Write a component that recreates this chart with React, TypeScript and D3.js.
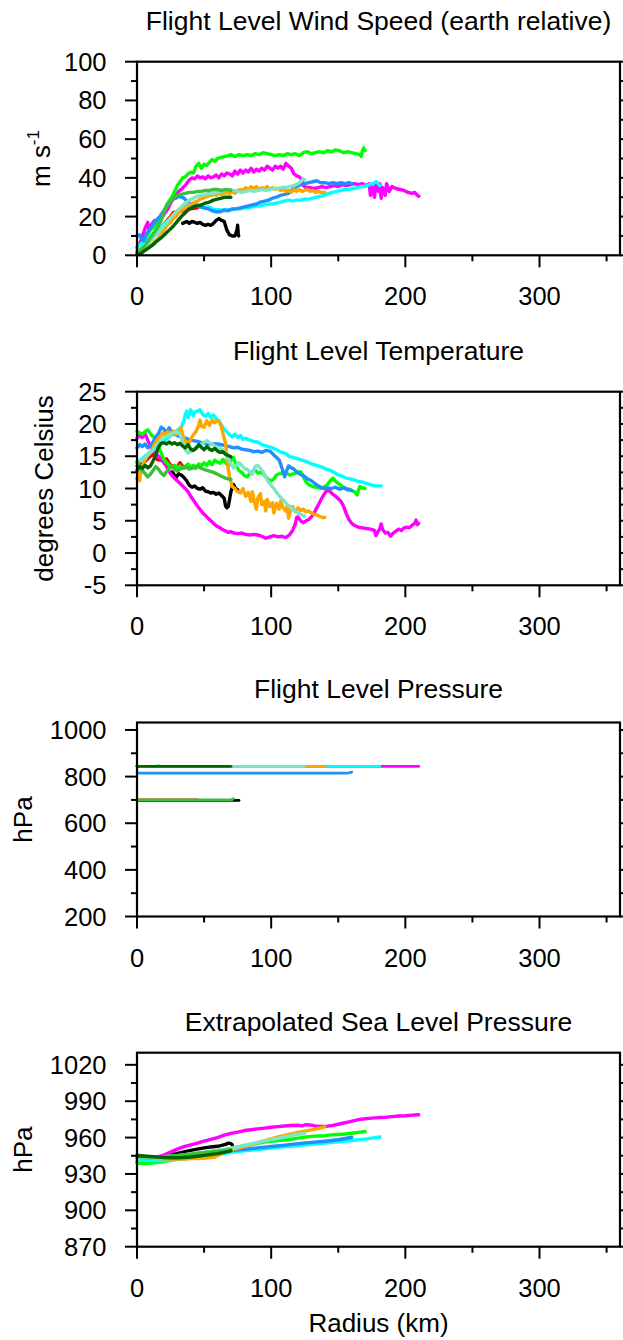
import React from "react";
import * as d3 from "d3";

// ---------- DATA (radius km, value) ----------
const radiusTicks = [0, 100, 200, 300];
const radiusMinor = [50, 150, 250, 350];

const seriesNames = ["black", "red", "magenta", "lime", "cyan", "blue", "orange", "aqua", "midgreen", "darkgreen"];
const seriesColors = ["#000000", "#ff0000", "#ff00ff", "#00ff00", "#00ffff", "#1e90ff", "#ffa500", "#7ce6c6", "#3cbf3c", "#006400"];

// Wind speed (m s-1)
const windBlack = [[34,16.5],[37,17.5],[39,16.5],[41,17.5],[43,17],[45,16.5],[47,17],[49,16],[51,15.5],[53,16],[55,15.5],[57,16.5],[59,18],[61,19],[63,18],[65,17.5],[67,13],[69,10.5],[71,10],[73,10],[74.5,13],[75,15.5],[75.5,11],[75.8,10]];
const windRed = [[0,1],[5,4],[10,8],[15,12],[20,16],[25,20],[27,22],[30,22.5],[35,23],[40,24],[45,24.5]];
const windMagenta = [[0,4],[2,6],[4,10],[6,14],[8,17],[9,13],[11,16],[13,18],[15,17],[17,19],[19,20],[21,22],[23,24],[25,27],[27,29],[29,31],[31,33],[33,34],[35,35.5],[37,37],[39,39],[41,40],[43,39.5],[45,41],[47,40],[49,40.5],[51,39.5],[53,41],[55,40],[57,40.5],[59,41.5],[61,40],[63,42],[65,41],[67,42.5],[69,42],[71,41],[73,43.5],[75,42],[77,44],[79,42.5],[81,44],[83,43],[85,45],[87,43],[89,44.5],[91,43.5],[93,45],[95,44],[97,46],[99,45],[101,44],[103,46],[105,45],[107,46],[109,44.5],[111,47.5],[113,46],[115,45],[117,42],[119,41],[121,40.5],[123,39],[124,36],[126,35],[129,35],[132,34.5],[135,35],[138,35.5],[141,35],[144,35.5],[147,36],[150,35.5],[153,36.5],[156,36],[159,36.5],[162,37],[165,36.5],[168,37],[171,36],[173,37],[174,31],[175,36],[177,30],[178,36.5],[180,33],[181,37],[182,29.5],[183,35],[185,31],[186,37],[188,33],[190,35.5],[193,34.5],[196,34],[199,33.5],[202,32.5],[205,32],[207,32.5],[209,31],[210,30.5]];
const windLime = [[1,3],[3,6],[5,8],[8,11],[10,13],[13,15],[16,18],[18,20],[20,22],[22,26],[24,28],[26,30],[28,33],[30,36],[32,38],[34,40],[36,40.5],[38,42],[40,43],[42,42.5],[44,46],[46,47.5],[48,45],[50,47],[52,46.5],[54,48],[56,49.5],[58,48.5],[60,50],[62,50.5],[65,51],[68,51.5],[70,52],[73,51],[76,52],[79,51.5],[82,52],[85,51.5],[88,52.5],[91,52],[94,53],[97,52.5],[100,52],[103,51.5],[106,52],[109,51.5],[112,52.5],[115,52],[118,52.5],[121,51.5],[124,53],[127,53.5],[130,52.5],[133,53],[136,53.5],[139,53],[142,54],[145,53.5],[148,54.5],[151,54],[154,53],[157,53.5],[160,53],[163,52.5],[166,52],[167,51],[168,54],[169,55.5],[170,54]];
const windCyan = [[0,4],[5,7],[10,10],[15,13],[20,16],[25,19],[30,22],[35,25],[38,26],[41,26.5],[44,25.5],[47,25],[50,24.5],[53,25],[56,24],[59,23.5],[62,23.5],[65,23],[68,23.5],[71,23.5],[74,24],[77,24],[80,24.5],[83,24.5],[86,25],[89,25.5],[92,25.5],[95,26],[98,26.5],[101,26.5],[104,27],[107,27.5],[110,28],[113,28.5],[116,28],[119,28.5],[122,28.5],[125,29],[128,29],[131,29.5],[134,30],[137,30.5],[140,31],[143,32],[146,32.5],[149,33],[152,33.5],[155,34],[158,34],[161,34.5],[164,35],[167,35.5],[170,35.5],[173,36.5],[176,37],[178,38],[180,37],[181,36]];
const windBlue = [[0,10],[2,10.5],[4,8],[5,7.5],[7,11],[9,13],[11,15],[13,17],[15,18.5],[17,20],[19,22],[21,24],[23,26],[25,28],[27,29],[29,29.5],[31,30.5],[33,30],[35,29.5],[37,28],[39,27],[41,26.5],[43,25.5],[45,26],[47,25],[50,24.5],[53,24],[56,23],[59,22.5],[62,22.5],[65,23.5],[68,23],[71,24],[74,24],[77,24.5],[80,25],[83,25.5],[86,26],[89,26.5],[92,27.5],[95,28],[98,28.5],[101,29.5],[104,30],[107,31],[110,31.5],[113,32],[116,34],[119,35.5],[122,36.5],[125,37],[128,37.5],[131,38],[134,38.5],[137,37.5],[140,37.5],[143,37],[146,37.5],[149,37],[152,37.5],[155,37],[158,37.5],[160,37]];
const windOrange = [[0,2],[3,3],[6,4],[9,6],[11,5],[13,7],[15,8],[17,10],[19,12],[21,14],[23,16],[25,17],[27,19],[29,20],[31,22],[33,23],[35,24],[37,25],[39,26],[41,26.5],[43,27.5],[45,28],[47,29],[49,29.5],[51,30],[53,30.5],[55,31],[57,31.5],[59,31],[61,32],[63,31.5],[65,32],[67,32.5],[69,32],[71,33],[73,32],[75,33.5],[77,34],[79,33.5],[81,35],[83,34],[85,35.5],[87,34.5],[89,35.5],[91,34],[93,35],[95,34.5],[97,35.5],[99,34],[101,35],[103,34],[105,34.5],[107,33.5],[109,34],[111,33],[113,33.5],[115,32.5],[117,34],[119,33],[121,34],[123,33],[125,33.5],[127,34],[129,33],[131,33.5],[133,32.5],[135,33],[137,32.5],[140,32.5]];
const windAqua = [[0,2],[3,4],[6,5],[9,6.5],[12,9],[15,11],[18,13.5],[21,16],[24,18.5],[27,21],[30,23],[33,25],[36,27],[39,28.5],[42,29.5],[45,30.5],[48,31],[51,31.5],[54,32],[57,32],[60,32.5],[63,33],[66,33.5],[69,34],[72,33.5],[75,33],[78,32.5],[81,33],[84,33.5],[87,33],[90,33.5],[93,34],[96,33.5],[99,34],[102,34.5],[105,34.5],[108,35],[111,35],[114,35.5],[117,36],[120,37],[122,38],[124,39.5],[125,39]];
const windMidGreen = [[0,2],[3,3],[6,5],[9,8],[12,11],[15,14],[18,18],[21,24],[24,27],[27,29.5],[30,31],[33,31.5],[36,32],[39,32.5],[42,32.5],[45,33],[48,33],[51,33.5],[54,33.5],[57,34],[60,34],[63,33.5],[66,34],[70,33.5]];
const windDarkGreen = [[0,0],[3,1],[6,2.5],[9,4],[12,5.5],[15,7.5],[18,9],[21,11],[24,13],[27,15],[30,17.5],[33,20],[36,22],[39,24],[42,25],[45,25.5],[48,26],[51,27],[54,27.5],[57,28.5],[60,29],[63,29.5],[66,30],[70,30]];

// Temperature (deg C)
const tempBlack = [[26,12.6],[27,12.4],[29,11.6],[31,12.3],[33,12.1],[35,11.7],[37,11.2],[39,10.5],[41,10.2],[43,10.4],[45,10],[47,9.9],[49,10.1],[51,9.6],[53,9.5],[55,9.3],[57,9.4],[59,9.1],[61,9.3],[63,8.9],[65,8.5],[66,7.3],[67,7],[68,7.2],[69,8.3],[70,9.5],[71,10.2],[72,10.6],[73,10.2],[74,9.9],[75,9.8]];
const tempRed = [[0,13.5],[5,14],[10,15],[12,15.3],[15,14.5],[20,14.3],[22,14.6],[25,13.6],[30,13.3],[32,14],[35,13.2],[40,13.4]];
const tempMagenta = [[0,17.8],[2,18.2],[4,17.9],[6,18.5],[8,17.5],[10,16.5],[12,15.9],[14,15.5],[16,15],[18,14.6],[20,14],[22,13.4],[24,12.6],[26,12],[28,11.6],[30,11.2],[32,10.8],[34,10.4],[36,10],[38,9.5],[40,8.8],[42,8.2],[44,7.6],[46,7],[48,6.5],[50,6],[52,5.6],[54,5.2],[56,4.8],[58,4.4],[60,4.1],[62,3.9],[64,3.6],[66,3.4],[68,3.2],[70,3.3],[72,3.1],[75,3],[78,3.1],[81,2.9],[84,2.8],[87,2.9],[90,2.8],[93,2.6],[96,2.3],[99,2.5],[102,2.7],[105,2.5],[108,2.6],[111,2.4],[114,2.9],[116,3.5],[118,4.5],[119,5.5],[120,5.6],[122,5],[124,4.7],[126,5],[128,5.2],[130,5.6],[132,6.2],[134,7],[136,7.8],[138,8.6],[140,9.3],[142,9.8],[144,9.5],[146,9.1],[148,8.8],[150,8.4],[152,8],[154,7.2],[156,6.1],[158,5.2],[160,4.6],[162,4.3],[165,4],[168,3.9],[171,3.8],[174,3.7],[177,3.5],[178,2.7],[179,3.1],[181,3.8],[182,4.5],[183,3.7],[185,3.1],[187,3.2],[189,2.6],[191,3.1],[193,3.4],[195,3.7],[197,3.5],[199,3.9],[201,4],[203,3.9],[205,4.3],[207,4.6],[208,5.1],[209,4.4],[210,4.6]];
const tempLime = [[0,18.9],[2,18.6],[4,18.4],[6,18.8],[8,19.1],[10,18.5],[12,18],[14,17.8],[16,16.5],[18,15.5],[20,14.5],[22,14],[24,13.6],[26,13.3],[28,13.6],[30,13.2],[32,13.5],[34,13.1],[36,13.4],[38,13.8],[40,13.3],[42,13.6],[44,13.1],[46,13.8],[48,13.5],[50,14],[52,13.6],[54,14.2],[56,13.7],[58,14.4],[60,14.1],[62,13.9],[64,14.5],[66,14],[68,13.5],[70,14.3],[72,14.8],[74,13.5],[76,12.8],[78,12.5],[80,12],[82,11.8],[84,12.3],[86,12.6],[88,12.9],[90,12.4],[92,12.5],[94,12.3],[96,11.8],[98,11.4],[100,11.2],[102,11.5],[104,12.1],[106,12.3],[109,12.4],[112,12.3],[114,12.1],[117,12.3],[120,12.5],[122,12.6],[124,11.8],[126,11],[128,10.6],[131,10.3],[134,10.2],[137,10],[140,10.3],[142,10.6],[144,11.2],[146,11.6],[148,11.1],[150,10.8],[152,10.5],[154,10.2],[156,10],[158,9.9],[160,9.7],[162,9.5],[164,9],[166,10.3],[168,10.1],[170,10]];
const tempCyan = [[0,14],[3,14.5],[6,15],[9,15.5],[12,16],[15,16.5],[18,17],[21,17.5],[24,18],[27,18.5],[30,19],[33,19.5],[35,20.5],[36,21.5],[37,22],[38,21],[39,21.5],[40,22.2],[42,21.3],[43,21.8],[45,22],[47,22.2],[49,21.5],[51,21.2],[53,21.6],[55,21],[57,21.4],[59,20.8],[61,20.5],[63,19.8],[65,19.2],[67,18.8],[69,18.3],[71,18],[73,18.4],[75,17.9],[77,18.2],[79,17.6],[81,17.8],[84,17.5],[87,17.3],[90,17.2],[93,16.8],[96,16.6],[99,16.4],[102,16.2],[105,15.9],[108,15.6],[111,15.4],[114,14.9],[117,14.8],[120,14.6],[123,14.4],[126,14.2],[129,13.9],[132,13.7],[135,13.5],[138,13.3],[141,13],[144,12.8],[147,12.5],[150,12.1],[153,11.9],[156,11.6],[159,11.5],[162,11.3],[165,11.1],[168,11],[171,10.8],[174,10.6],[177,10.4],[180,10.4],[182,10.4]];
const tempBlue = [[0,16.3],[2,16.8],[4,16.5],[6,16.9],[8,16.3],[10,16.6],[12,17.2],[14,18],[16,18.5],[18,19.5],[20,19.2],[22,18.6],[24,19.4],[26,18.7],[28,18.4],[30,18.2],[33,18],[36,17.8],[40,17.5],[45,17.3],[50,17],[55,16.9],[60,16.9],[65,16.7],[69,16.5],[72,16.3],[75,16.4],[78,16.1],[81,16],[84,15.9],[87,15.7],[90,15.8],[93,15.6],[96,15.9],[99,15.8],[102,15.2],[104,14.8],[106,14.4],[108,13.2],[110,11.8],[111,12.5],[113,13.5],[115,13.2],[117,13],[119,12.6],[121,12.3],[124,12],[127,11.5],[130,11.2],[133,10.7],[136,10.3],[139,10],[142,10.1],[145,10],[148,10.2],[151,9.9],[154,10.1],[157,9.8],[160,9.7]];
const tempOrange = [[0,11.5],[1,12.5],[2,11.2],[3,13],[5,14],[7,14.8],[9,15.5],[11,16],[13,16.8],[15,17.5],[17,18],[19,18.6],[21,18.3],[23,18.8],[25,18.5],[27,18.9],[29,18.4],[31,18.6],[33,19.4],[34,18.2],[36,17.3],[38,16.8],[40,17.6],[42,18.3],[44,18.8],[46,19.8],[47,20.6],[48,19.7],[50,19.5],[52,20.5],[54,19.8],[56,20.6],[58,20.2],[60,20.5],[62,20.1],[63,19.5],[64,18.6],[66,17],[67,15],[68,13],[69,11.8],[71,10.3],[73,10],[75,9.5],[77,9.3],[79,10],[81,8.8],[83,9.4],[85,8],[86,9.5],[88,7.5],[89,6.8],[90,8.5],[92,9.2],[93,7.5],[95,8],[96,6.5],[97,8.3],[99,7.2],[101,7.8],[102,6.2],[104,7.7],[106,6.8],[107,8],[109,7],[111,6.5],[112,7.4],[113,5.4],[114,6.3],[116,7.2],[118,6.4],[120,7],[122,6.6],[124,6.8],[126,6.4],[128,6.5],[130,6.2],[132,6],[134,5.9],[136,5.7],[138,5.5],[140,5.5]];
const tempAqua = [[0,14],[3,14.3],[6,14.8],[9,15.4],[12,16],[15,16.8],[18,17.5],[21,18],[24,18.3],[27,18.6],[30,18.8],[32,18.4],[34,17.2],[36,16],[38,15.5],[40,15.7],[43,16.3],[46,16.6],[49,17],[52,17.4],[55,17],[58,16.6],[61,16.3],[64,16],[66,15.4],[68,14.5],[70,13.8],[72,13.2],[74,13.6],[76,14],[78,13.6],[80,13.1],[82,13],[84,12.6],[86,12.2],[88,13.4],[90,13.6],[92,13.1],[94,12.6],[96,11.8],[98,11],[100,10.5],[102,10],[104,9.4],[106,8.9],[108,8.4],[110,8],[112,7.5],[114,7.2],[116,6.8],[118,6.5],[120,6.2],[122,6],[124,5.8],[125,5.7]];
const tempMidGreen = [[0,14.2],[2,13.5],[4,12.8],[6,12.3],[8,11.8],[10,12.2],[12,12.8],[14,13.4],[16,13],[18,12.4],[20,12],[22,12.6],[24,13.1],[26,13.4],[28,13],[30,12.7],[33,13.1],[36,13.4],[39,13],[42,13.2],[45,13.5],[48,13.1],[51,12.9],[54,12.7],[57,12.5],[60,12.2],[63,11.9],[66,11.6],[68,11.5],[70,11.4]];
const tempDarkGreen = [[0,12.8],[2,13.4],[4,13.1],[6,13.6],[8,13.2],[10,13.5],[12,14.3],[14,15.2],[16,16.4],[18,17],[20,17.1],[22,16.9],[24,17.2],[26,16.9],[28,17.1],[30,16.8],[32,17],[34,16.6],[36,16.3],[38,16.8],[40,16.1],[42,15.9],[44,16.2],[46,16.8],[48,16.4],[50,16],[52,16.5],[54,16.1],[56,15.9],[58,16.2],[60,15.8],[62,15.6],[64,15.7],[66,15.3],[68,15.1],[70,14.9]];

// Flight level pressure (hPa)
const presBlack = [[0,698],[76,698]];
const presRed = [[0,700],[45,700]];
const presMagenta = [[0,844],[210,844]];
const presLime = [[0,844],[14,844],[16,846],[18,843],[20,844],[170,844]];
const presCyan = [[0,844],[181,844]];
const presBlue = [[0,815],[155,815],[158,816],[160,819]];
const presOrange = [[0,844],[140,844]];
const presAqua = [[0,844],[125,844]];
const presMidGreen = [[0,700],[70,700],[71,702],[72,705]];
const presDarkGreen = [[0,844],[70,844]];

// Extrapolated sea level pressure (hPa)
const slpBlack = [[25,945.5],[30,947],[40,949.5],[50,951.5],[55,952.2],[60,952.8],[63,953.5],[66,954.4],[68,955.4],[70,955],[71,954]];
const slpRed = [[0,944],[20,944],[40,945.5]];
const slpMagenta = [[0,940],[5,940.5],[10,942.5],[15,944],[20,945.6],[25,948],[30,950.5],[35,952.5],[40,954],[45,955.5],[50,957],[55,958.5],[60,960],[65,962],[70,963.5],[75,964.5],[80,965.8],[85,966.5],[90,967.2],[95,967.8],[100,968.5],[105,969],[110,969.6],[115,970],[120,970.2],[123,969.6],[126,970.6],[130,970.3],[134,969.3],[138,969.2],[142,969.4],[146,970],[150,971],[154,972],[158,973],[162,974],[166,975],[170,975.5],[175,976],[180,976.5],[185,976.8],[190,977.3],[195,977.8],[200,978],[205,978.5],[210,978.8]];
const slpLime = [[0,939],[5,938.6],[10,938.8],[15,939.5],[20,940.2],[25,941.2],[30,942.2],[35,943.4],[40,944.5],[45,945.6],[50,946.7],[55,947.8],[60,948.9],[65,950],[70,951],[75,952.2],[80,953.3],[85,954.3],[90,955.3],[95,956.2],[100,956.9],[105,957.5],[110,958],[115,958.6],[120,959.5],[125,960.3],[130,961],[135,961.3],[140,961.6],[145,962.2],[150,962.5],[155,962.9],[160,963.6],[165,964.3],[170,965]];
const slpCyan = [[0,941.5],[10,941],[20,941],[30,941.8],[40,942.8],[50,944.3],[60,946],[70,947.8],[80,949],[90,950.2],[100,951.3],[110,952.3],[120,953.4],[130,954.4],[140,955.5],[150,956.5],[160,957.6],[170,958.7],[181,960.5]];
const slpBlue = [[0,943],[10,943.2],[20,943.7],[30,944.8],[40,945.8],[50,947],[60,948],[70,949.2],[80,950.3],[90,951.5],[100,952.6],[110,953.8],[120,955],[130,956],[140,957],[150,958.2],[160,960.3]];
const slpOrange = [[0,946],[5,944.5],[10,943.5],[15,942.8],[20,942.4],[25,942.3],[30,942.5],[35,942.3],[40,942.6],[45,942.8],[50,943],[55,943.5],[58,944],[61,945.5],[64,947.3],[67,948.5],[70,949.4],[75,951],[80,952.6],[85,954.2],[90,955.8],[95,957.5],[100,959],[105,960.5],[110,961.8],[115,963],[120,964.2],[125,965.3],[130,966.3],[135,967.5],[140,968.8]];
const slpAqua = [[0,943],[10,943.5],[20,944],[30,945],[40,946.5],[50,948],[60,949.5],[70,950.8],[80,953.5],[90,956],[100,958.3],[110,960.5],[118,962.3],[125,963.6]];
const slpMidGreen = [[0,944],[10,944.2],[20,944.5],[30,945.2],[40,946.3],[50,947.5],[60,948.7],[70,950]];
const slpDarkGreen = [[0,945],[5,944.8],[10,944.4],[15,944],[20,943.6],[25,943.4],[30,943.4],[35,943.6],[40,944],[45,944.6],[50,945.3],[55,946],[60,946.8],[65,947.8],[70,949]];

// Axis ticks per panel
const windTicks = [0, 20, 40, 60, 80, 100];
const windMinor = [10, 30, 50, 70, 90];
const tempTicks = [-5, 0, 5, 10, 15, 20, 25];
const tempMinor = [-2.5, 2.5, 7.5, 12.5, 17.5, 22.5];
const presTicks = [200, 400, 600, 800, 1000];
const presMinor = [300, 500, 700, 900];
const slpTicks = [870, 900, 930, 960, 990, 1020];
const slpMinor = [885, 915, 945, 975, 1005];

const titles = [
  "Flight Level Wind Speed (earth relative)",
  "Flight Level Temperature",
  "Flight Level Pressure",
  "Extrapolated Sea Level Pressure",
];

// ---------- LAYOUT ----------
const FONT = "'Liberation Sans', Arial, Helvetica, sans-serif";
const X0 = 137, X1 = 620;
const xScale = d3.scaleLinear().domain([0, 360]).range([X0, X1]);

const panels = [
  { title: titles[0], top: 61.7, bottom: 255.3, domain: [0, 100], ticks: windTicks, minor: windMinor, titleY: 30, ytitleX: 50, ytitle: "ms",
    data: [windBlack, windRed, windMagenta, windLime, windCyan, windBlue, windOrange, windAqua, windMidGreen, windDarkGreen], lw: 3.4 },
  { title: titles[1], top: 391.7, bottom: 585.3, domain: [-5, 25], ticks: tempTicks, minor: tempMinor, titleY: 360, ytitleX: 53, ytitle: "degrees Celsius",
    data: [tempBlack, tempRed, tempMagenta, tempLime, tempCyan, tempBlue, tempOrange, tempAqua, tempMidGreen, tempDarkGreen], lw: 3.4 },
  { title: titles[2], top: 722.5, bottom: 916.5, domain: [200, 1032], ticks: presTicks, minor: presMinor, titleY: 698, ytitleX: 32, ytitle: "hPa",
    data: [presBlack, presRed, presMagenta, presLime, presCyan, presBlue, presOrange, presAqua, presMidGreen, presDarkGreen], lw: 2.8 },
  { title: titles[3], top: 1052.7, bottom: 1246.7, domain: [870, 1030], ticks: slpTicks, minor: slpMinor, titleY: 1030.7, ytitleX: 32, ytitle: "hPa",
    data: [slpBlack, slpRed, slpMagenta, slpLime, slpCyan, slpBlue, slpOrange, slpAqua, slpMidGreen, slpDarkGreen], lw: 3.4 },
];

const MAJ = 12, MIN = 6;

function Panel({ p, last }: { p: any; last: boolean }) {
  const y = d3.scaleLinear().domain(p.domain).range([p.bottom, p.top]);
  const line = d3.line<number[]>().x((d) => xScale(d[0])).y((d) => y(d[1]));
  const cy = (p.top + p.bottom) / 2;
  const cx = (X0 + X1) / 2;
  return (
    <g>
      <text x={cx} y={p.titleY} textAnchor="middle" fontSize={26.5} fontFamily={FONT} fill="#000">{p.title}</text>
      {p.data.map((s: number[][], i: number) => (
        <path key={i} d={line(s) || ""} fill="none" stroke={seriesColors[i]} strokeWidth={p.lw} strokeLinejoin="round" strokeLinecap="round" />
      ))}
      <rect x={X0} y={p.top} width={X1 - X0} height={p.bottom - p.top} fill="none" stroke="#000" strokeWidth={2.2} />
      {p.ticks.map((t: number) => (
        <g key={"yt" + t}>
          <line x1={X0 - MAJ} x2={X0} y1={y(t)} y2={y(t)} stroke="#000" strokeWidth={2} />
          <line x1={X1} x2={X1 + MAJ} y1={y(t)} y2={y(t)} stroke="#000" strokeWidth={2} />
          <text x={106.5} y={y(t) + 9} textAnchor="end" fontSize={25.5} fontFamily={FONT} fill="#000">{t}</text>
        </g>
      ))}
      {p.minor.map((t: number) => (
        <g key={"ym" + t}>
          <line x1={X0 - MIN} x2={X0} y1={y(t)} y2={y(t)} stroke="#000" strokeWidth={2} />
          <line x1={X1} x2={X1 + MIN} y1={y(t)} y2={y(t)} stroke="#000" strokeWidth={2} />
        </g>
      ))}
      {radiusTicks.map((t) => (
        <g key={"xt" + t}>
          <line x1={xScale(t)} x2={xScale(t)} y1={p.bottom} y2={p.bottom + MAJ} stroke="#000" strokeWidth={2} />
          <text x={xScale(t)} y={p.bottom + 50} textAnchor="middle" fontSize={25.5} fontFamily={FONT} fill="#000">{t}</text>
        </g>
      ))}
      {radiusMinor.map((t) => (
        <line key={"xm" + t} x1={xScale(t)} x2={xScale(t)} y1={p.bottom} y2={p.bottom + MIN} stroke="#000" strokeWidth={2} />
      ))}
      <text transform={`translate(${p.ytitleX},${cy}) rotate(-90)`} textAnchor="middle" fontSize={26} fontFamily={FONT} fill="#000">
        {p.ytitle === "ms" ? (
          <>
            <tspan>m s</tspan>
            <tspan fontSize={17} dy={-11}>-1</tspan>
          </>
        ) : (
          p.ytitle
        )}
      </text>
      {last && (
        <text x={cx} y={1331.7} textAnchor="middle" fontSize={26} fontFamily={FONT} fill="#000">Radius (km)</text>
      )}
    </g>
  );
}

export default function App() {
  return (
    <svg width={623} height={1340} style={{ position: "absolute", left: 0, top: 0, background: "#fff" }}>
      <rect x={0} y={0} width={623} height={1340} fill="#fff" />
      {panels.map((p, i) => (
        <Panel key={i} p={p} last={i === panels.length - 1} />
      ))}
    </svg>
  );
}
